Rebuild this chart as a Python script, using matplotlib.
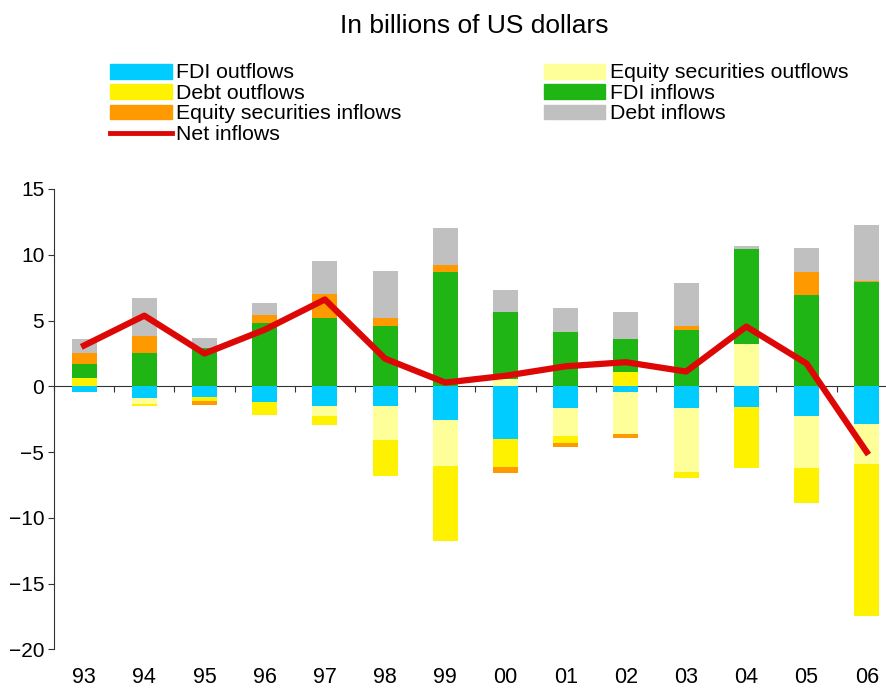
import numpy as np
import matplotlib
matplotlib.use("Agg")
import matplotlib.pyplot as plt
from matplotlib.patches import Patch
from matplotlib.lines import Line2D

plt.rcParams['font.family'] = ['Liberation Sans', 'DejaVu Sans']

# datos (miles de millones de USD)
years = ['93', '94', '95', '96', '97', '98', '99', '00', '01', '02', '03', '04', '05', '06']
fdi_out = [-0.40, -0.86, -0.78, -1.16, -1.47, -1.47, -2.53, -3.98, -1.62, -0.40, -1.62, -1.55, -2.23, -2.84]
equity_out = [-0.05, -0.46, 0.0, 0.0, -0.76, -2.58, -3.50, 0.55, -2.13, -3.20, -4.87, 3.19, -3.95, -3.04]
debt_out = [0.66, -0.15, -0.31, -0.99, -0.68, -2.74, -5.71, -2.13, -0.53, 1.12, -0.45, -4.63, -2.66, -11.62]
fdi_in = [1.07, 2.56, 2.94, 4.84, 5.22, 4.61, 8.72, 5.13, 4.16, 2.51, 4.31, 7.21, 6.97, 7.96]
equity_in = [0.83, 1.30, -0.30, 0.61, 1.83, 0.61, 0.53, -0.45, -0.30, -0.30, 0.30, 0.0, 1.75, 0.08]
debt_in = [1.00, 2.88, 0.76, 0.91, 2.51, 3.58, 2.75, 1.67, 1.82, 2.05, 3.27, 0.30, 1.83, 4.26]
net_in = [3.10, 5.37, 2.49, 4.30, 6.60, 2.10, 0.28, 0.80, 1.52, 1.83, 1.12, 4.54, 1.73, -5.00]

series = [
    ("FDI outflows", fdi_out, "#00CCFF"),
    ("Equity securities outflows", equity_out, "#FFFF99"),
    ("Debt outflows", debt_out, "#FFF200"),
    ("FDI inflows", fdi_in, "#1FB515"),
    ("Equity securities inflows", equity_in, "#FF9900"),
    ("Debt inflows", debt_in, "#C0C0C0"),
]

fig = plt.figure(figsize=(8.87, 6.88), dpi=100)
ax = fig.add_axes([54 / 887, 1 - 649.3 / 688, 842.8 / 887, 460.3 / 688])

x = np.arange(len(years))
pos_base = np.zeros(len(years))
neg_base = np.zeros(len(years))
for nombre, valores, color in series:
    v = np.array(valores)
    base = np.where(v >= 0, pos_base, neg_base)
    ax.bar(x, v, 0.415, bottom=base, color=color, linewidth=0, zorder=2)
    pos_base = pos_base + np.where(v > 0, v, 0)
    neg_base = neg_base + np.where(v < 0, v, 0)

ax.plot(x, net_in, color="#DD0806", linewidth=4.5, zorder=4)

ax.set_xlim(-0.5, len(years) - 0.5)
ax.set_ylim(-20, 15)
ax.set_yticks(np.arange(-20, 16, 5))
ax.tick_params(axis='y', direction='out', length=4, labelsize=15, pad=3, color="#333333")

# etiquetas de categorias abajo
ax.set_xticks(x)
ax.set_xticklabels(years, fontsize=15.5)
ax.tick_params(axis='x', length=0, pad=13)

for lado in ['top', 'right', 'bottom']:
    ax.spines[lado].set_visible(False)
ax.spines['left'].set_color("#333333")

# eje en cero con marcas entre categorias
eje0 = ax.secondary_xaxis(0, transform=ax.transData)
eje0.set_xticks(np.arange(-0.5, len(years), 1.0))
eje0.set_xticklabels([])
eje0.tick_params(direction='out', length=4, color="#333333")
eje0.spines['bottom'].set_color("#333333")

fig.text(474 / 887, 1 - 26 / 688, "In billions of US dollars", ha='center', va='center', fontsize=19)

handles = [
    Patch(color="#00CCFF"), Patch(color="#FFF200"), Patch(color="#FF9900"),
    Line2D([0], [0], color="#DD0806", linewidth=3.5),
    Patch(color="#FFFF99"), Patch(color="#1FB515"), Patch(color="#C0C0C0"),
]
labels = ["FDI outflows", "Debt outflows", "Equity securities inflows", "Net inflows",
          "Equity securities outflows", "FDI inflows", "Debt inflows"]
fig.legend(handles, labels, loc='upper left', bbox_to_anchor=(110 / 887, 1 - 63.5 / 688),
           ncol=2, frameon=False, fontsize=15.3, handlelength=2.9, handleheight=0.7,
           handletextpad=0.2, labelspacing=0.07, columnspacing=6.7, borderpad=0,
           borderaxespad=0)

plt.savefig("out.png", dpi=100)
